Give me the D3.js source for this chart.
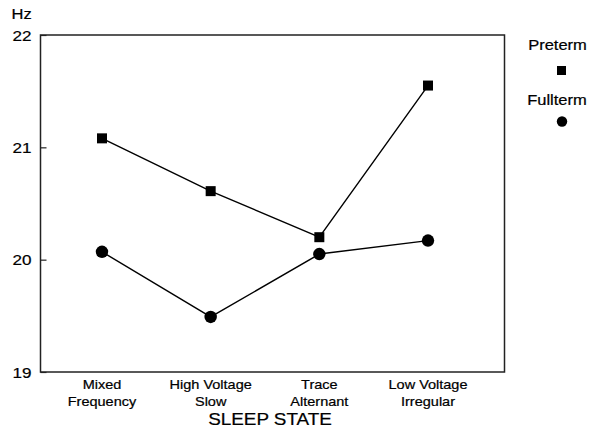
<!DOCTYPE html>
<html>
<head>
<meta charset="utf-8">
<script src="https://cdn.jsdelivr.net/npm/d3@7"></script>
<style>
  html, body { margin: 0; padding: 0; background: #fff; }
  svg { display: block; font-family: "Liberation Sans", Arial, Helvetica, sans-serif; }
  svg text { fill: #000; stroke: #000; stroke-width: 0.2px; }
</style>
</head>
<body>
<svg id="chart" width="591" height="430"></svg>
<script>
// Sleep state categories (two-line labels)
const categories = ["Mixed Frequency", "High Voltage Slow", "Trace Alternant", "Low Voltage Irregular"];
const categoryLines = [["Mixed", "Frequency"], ["High Voltage", "Slow"], ["Trace", "Alternant"], ["Low Voltage", "Irregular"]];

// Mean frequency (Hz) per sleep state
const preterm  = [21.08, 20.61, 20.20, 21.55];
const fullterm = [20.07, 19.49, 20.05, 20.17];

const yTicks = [19, 20, 21, 22];
const seriesNames = ["Preterm", "Fullterm"];

// Text is set slightly wide (horizontal stretch)
const SX = 1.18;

const svg = d3.select("#chart");

// Plot frame
const frame = { left: 40.5, right: 504.5, top: 35, bottom: 372 };

const x = d3.scalePoint()
  .domain(categories)
  .range([102, 428]);

const y = d3.scaleLinear()
  .domain([19, 22])
  .range([frame.bottom, frame.top]);

// Place a wide-set text element anchored at (px, py)
function wideText(sel, px, py, size, str, anchor = "middle") {
  return sel.append("text")
    .attr("transform", `translate(${px},${py}) scale(${SX},1)`)
    .attr("text-anchor", anchor)
    .style("font-size", size + "px")
    .text(str);
}

// Frame box
svg.append("rect")
  .attr("x", frame.left)
  .attr("y", frame.top)
  .attr("width", frame.right - frame.left)
  .attr("height", frame.bottom - frame.top)
  .attr("fill", "none")
  .attr("stroke", "#222")
  .attr("stroke-width", 1.5);

// Y axis: short inward ticks, labels outside
const yAxis = d3.axisLeft(y)
  .tickValues(yTicks)
  .tickFormat(d3.format("d"))
  .tickSizeInner(-6)
  .tickSizeOuter(0);

const gy = svg.append("g")
  .attr("transform", `translate(${frame.left},0)`)
  .call(yAxis);
gy.select(".domain").remove();
gy.selectAll(".tick line").attr("stroke", "#222").attr("stroke-width", 1.2);
gy.selectAll(".tick text")
  .attr("x", -9 / SX)
  .attr("dy", "0.36em")
  .attr("transform", `scale(${SX},1)`)
  .attr("text-anchor", "end")
  .style("font-size", "14.5px");

// Y unit label
wideText(svg, 21.7, 19, 14, "Hz");

// Category labels under each point
categories.forEach((c, i) => {
  categoryLines[i].forEach((ln, j) => {
    wideText(svg, x(c), 389 + j * 17, 12.3, ln);
  });
});

// X axis title
wideText(svg, 270, 425, 16, "SLEEP STATE");

// Lines
const line = d3.line()
  .x((d, i) => x(categories[i]))
  .y(d => y(d));

[preterm, fullterm].forEach(series => {
  svg.append("path")
    .datum(series)
    .attr("d", line)
    .attr("fill", "none")
    .attr("stroke", "#000")
    .attr("stroke-width", 1.4);
});

// Markers
const sq = 10;
svg.append("g").selectAll("rect")
  .data(preterm)
  .join("rect")
  .attr("x", (d, i) => x(categories[i]) - sq / 2)
  .attr("y", d => y(d) - sq / 2)
  .attr("width", sq)
  .attr("height", sq)
  .attr("fill", "#000");

svg.append("g").selectAll("circle")
  .data(fullterm)
  .join("circle")
  .attr("cx", (d, i) => x(categories[i]))
  .attr("cy", d => y(d))
  .attr("r", 6.2)
  .attr("fill", "#000");

// Legend
wideText(svg, 557.5, 50, 14, seriesNames[0]);
svg.append("rect")
  .attr("x", 561.5 - 4.5).attr("y", 70.5 - 4.5)
  .attr("width", 9).attr("height", 9)
  .attr("fill", "#000");
wideText(svg, 557, 105, 14, seriesNames[1]);
svg.append("circle")
  .attr("cx", 562).attr("cy", 121.5)
  .attr("r", 5.2)
  .attr("fill", "#000");
</script>
</body>
</html>
